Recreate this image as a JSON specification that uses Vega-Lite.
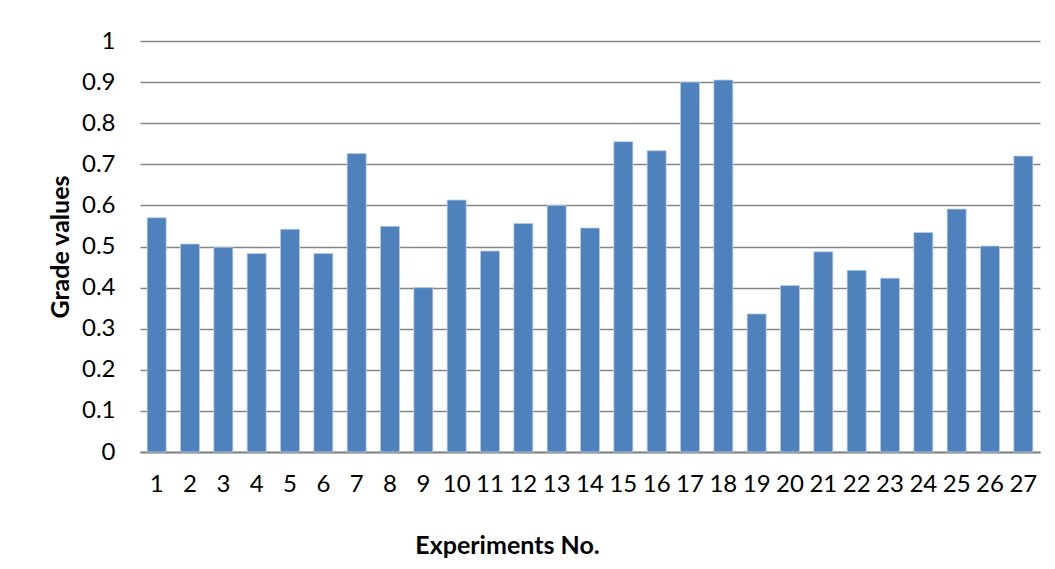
{
  "$schema": "https://vega.github.io/schema/vega-lite/v6.json",
  "width": 900,
  "height": 411,
  "autosize": {"type": "none"},
  "padding": {"left": 140, "top": 41, "right": 15, "bottom": 117},
  "background": "white",
  "config": {
    "view": {"stroke": null},
    "font": "Lato"
  },
  "data": {
    "values": [
      {"exp": "1", "grade": 0.570},
      {"exp": "2", "grade": 0.506},
      {"exp": "3", "grade": 0.498},
      {"exp": "4", "grade": 0.483},
      {"exp": "5", "grade": 0.542},
      {"exp": "6", "grade": 0.483},
      {"exp": "7", "grade": 0.726},
      {"exp": "8", "grade": 0.549},
      {"exp": "9", "grade": 0.400},
      {"exp": "10", "grade": 0.613},
      {"exp": "11", "grade": 0.489},
      {"exp": "12", "grade": 0.556},
      {"exp": "13", "grade": 0.600},
      {"exp": "14", "grade": 0.545},
      {"exp": "15", "grade": 0.755},
      {"exp": "16", "grade": 0.733},
      {"exp": "17", "grade": 0.900},
      {"exp": "18", "grade": 0.905},
      {"exp": "19", "grade": 0.336},
      {"exp": "20", "grade": 0.405},
      {"exp": "21", "grade": 0.487},
      {"exp": "22", "grade": 0.442},
      {"exp": "23", "grade": 0.423},
      {"exp": "24", "grade": 0.534},
      {"exp": "25", "grade": 0.591},
      {"exp": "26", "grade": 0.501},
      {"exp": "27", "grade": 0.720}
    ]
  },
  "mark": {"type": "bar", "color": "#4F81BD", "stroke": "#B9CDE5", "strokeWidth": 0.8},
  "encoding": {
    "x": {
      "field": "exp",
      "type": "ordinal",
      "sort": null,
      "scale": {"paddingInner": 0.43, "paddingOuter": 0.215},
      "axis": {
        "title": "Experiments No.",
        "titleFont": "Lato",
        "titleFontSize": 25,
        "titleFontWeight": "bold",
        "titleColor": "#000000",
        "titlePadding": 37,
        "titleX": 367,
        "labelAngle": 0,
        "labelFontSize": 24,
        "labelColor": "#000000",
        "labelPadding": 20,
        "ticks": false,
        "domainColor": "#868686",
        "domainWidth": 2,
        "grid": false
      }
    },
    "y": {
      "field": "grade",
      "type": "quantitative",
      "scale": {"domain": [0, 1], "nice": false},
      "axis": {
        "title": "Grade values",
        "titleFont": "Lato",
        "titleFontSize": 25,
        "titleFontWeight": "bold",
        "titleColor": "#000000",
        "titlePadding": 8,
        "values": [0, 0.1, 0.2, 0.3, 0.4, 0.5, 0.6, 0.7, 0.8, 0.9, 1],
        "labelExpr": "datum.value == 0 ? '0' : datum.value == 1 ? '1' : format(datum.value, '.1f')",
        "labelFontSize": 24,
        "labelColor": "#000000",
        "labelPadding": 25,
        "ticks": false,
        "domain": false,
        "grid": true,
        "gridColor": "#868686",
        "gridWidth": 1.5
      }
    }
  }
}
